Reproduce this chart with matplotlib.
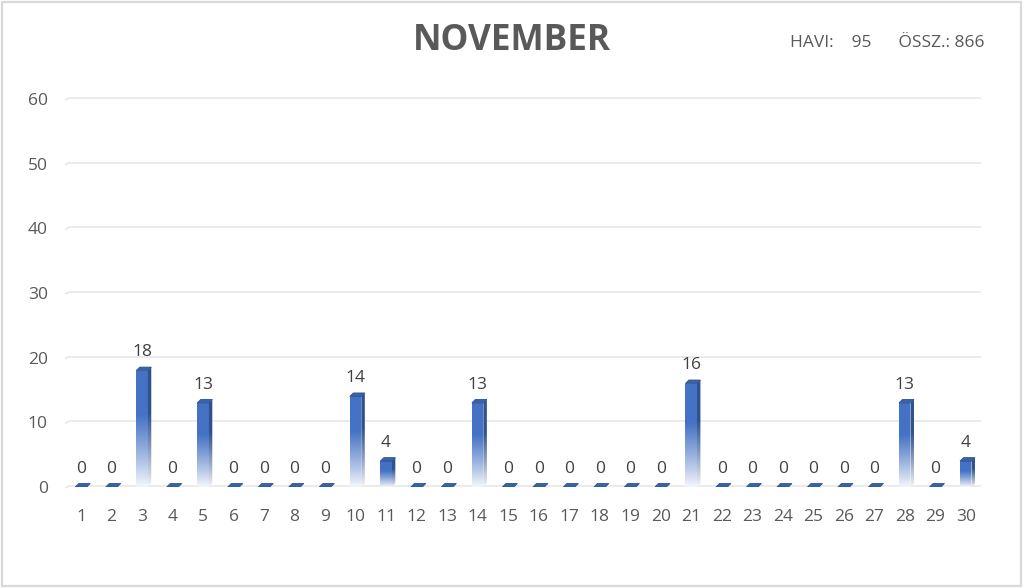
import numpy as np
import matplotlib.pyplot as plt
from matplotlib.patches import Polygon, Rectangle
from matplotlib.colors import to_rgb

# daily values for November
days = list(range(1, 31))
values = [0, 0, 18, 0, 13, 0, 0, 0, 0, 14,
          4, 0, 0, 13, 0, 0, 0, 0, 0, 0,
          16, 0, 0, 0, 0, 0, 0, 13, 0, 4]
y_ticks = [0, 10, 20, 30, 40, 50, 60]
title = "NOVEMBER"
monthly_total = 95
overall_total = 866

plt.rcParams['font.family'] = ['Open Sans', 'DejaVu Sans']

W, H, DPI = 1024, 588, 100
fig = plt.figure(figsize=(W / DPI, H / DPI), dpi=DPI)
fig.patch.set_facecolor('white')

# axes placement in pixels
left_px, right_px, top_px, bottom_px = 65.75, 981, 99, 487
ax = fig.add_axes([left_px / W, 1 - bottom_px / H,
                   (right_px - left_px) / W, (bottom_px - top_px) / H])
ax.set_xlim(0.5, 30.5)
ax.set_ylim(0, 60)

px_x = (right_px - left_px) / 30.0   # pixels per x unit
px_y = (bottom_px - top_px) / 60.0   # pixels per y unit

blue = np.array(to_rgb('#4472C4'))
side_blue = np.array(to_rgb('#2F528F'))
top_blue = np.array(to_rgb('#3A62AA'))
white = np.array([1.0, 1.0, 1.0])


def gradient_fill(verts, color, y0, y1, zorder):
    poly = Polygon(verts, closed=True, facecolor='none', edgecolor='none')
    ax.add_patch(poly)
    t = np.linspace(0, 1, 200)
    f = np.clip((t - 0.02) / 0.6, 0, 1) ** 0.9
    f = 0.08 + 0.92 * f
    img = (white[None, :] * (1 - f[:, None]) + color[None, :] * f[:, None])
    img = img[:, None, :]
    xs = [v[0] for v in verts]
    im = ax.imshow(img, extent=[min(xs), max(xs), y0, y1], origin='lower',
                   aspect='auto', zorder=zorder, interpolation='bilinear')
    im.set_clip_path(poly)


bw = 11.5 / px_x       # bar front width
dx = 3.5 / px_x        # depth offset x
dy = 3.5 / px_y        # depth offset y

# grid lines
for yt in y_ticks:
    ax.plot([0.5 + dx, 30.5], [yt + dy * 0.3, yt + dy * 0.3], color='#E6E6E6',
            lw=1.1, zorder=1, solid_capstyle='butt', clip_on=False)
    ax.plot([0.5, 0.5 + dx], [yt - dy * 0.2, yt + dy * 0.3], color='#E6E6E6',
            lw=1.1, zorder=1, clip_on=False)

for d, v in zip(days, values):
    x0, x1 = d - bw / 2, d + bw / 2
    if v > 0:
        gradient_fill([(x0, 0), (x1, 0), (x1, v), (x0, v)], blue, 0, v, 3)
        gradient_fill([(x1, 0), (x1 + dx, dy), (x1 + dx, v + dy), (x1, v)],
                      side_blue, 0, v + dy, 3)
    top = Polygon([(x0, v), (x1, v), (x1 + dx, v + dy), (x0 + dx, v + dy)],
                  closed=True, facecolor=top_blue, edgecolor='#2F528F',
                  lw=0.6, zorder=4)
    ax.add_patch(top)
    ax.annotate(str(v), (d, v), xytext=(0, 7.4), textcoords='offset points',
                ha='center', va='bottom', fontsize=12.5, color='#404040',
                zorder=5)

for s in ax.spines.values():
    s.set_visible(False)
ax.set_xticks(days)
ax.set_xticklabels([str(d) for d in days])
ax.set_yticks(y_ticks)
ax.tick_params(axis='both', length=0, labelsize=12.5, labelcolor='#595959')
ax.tick_params(axis='x', pad=16)
ax.tick_params(axis='y', pad=13)

fig.text(512 / W, 1 - 41 / H, title, ha='center', va='center',
         fontsize=25.3, fontweight='bold', color='#595959')
fig.text(985 / W, 1 - 43 / H,
         "HAVI:    %d      ÖSSZ.: %d" % (monthly_total, overall_total),
         ha='right', va='center', fontsize=12.5, color='#595959')

fig.patches.append(Rectangle((1.5 / W, 2 / H), (W - 4.5) / W, (H - 3.5) / H,
                             transform=fig.transFigure, fill=False,
                             edgecolor='#D9D9D9', lw=1.6))

fig.savefig('out.png', dpi=DPI)
